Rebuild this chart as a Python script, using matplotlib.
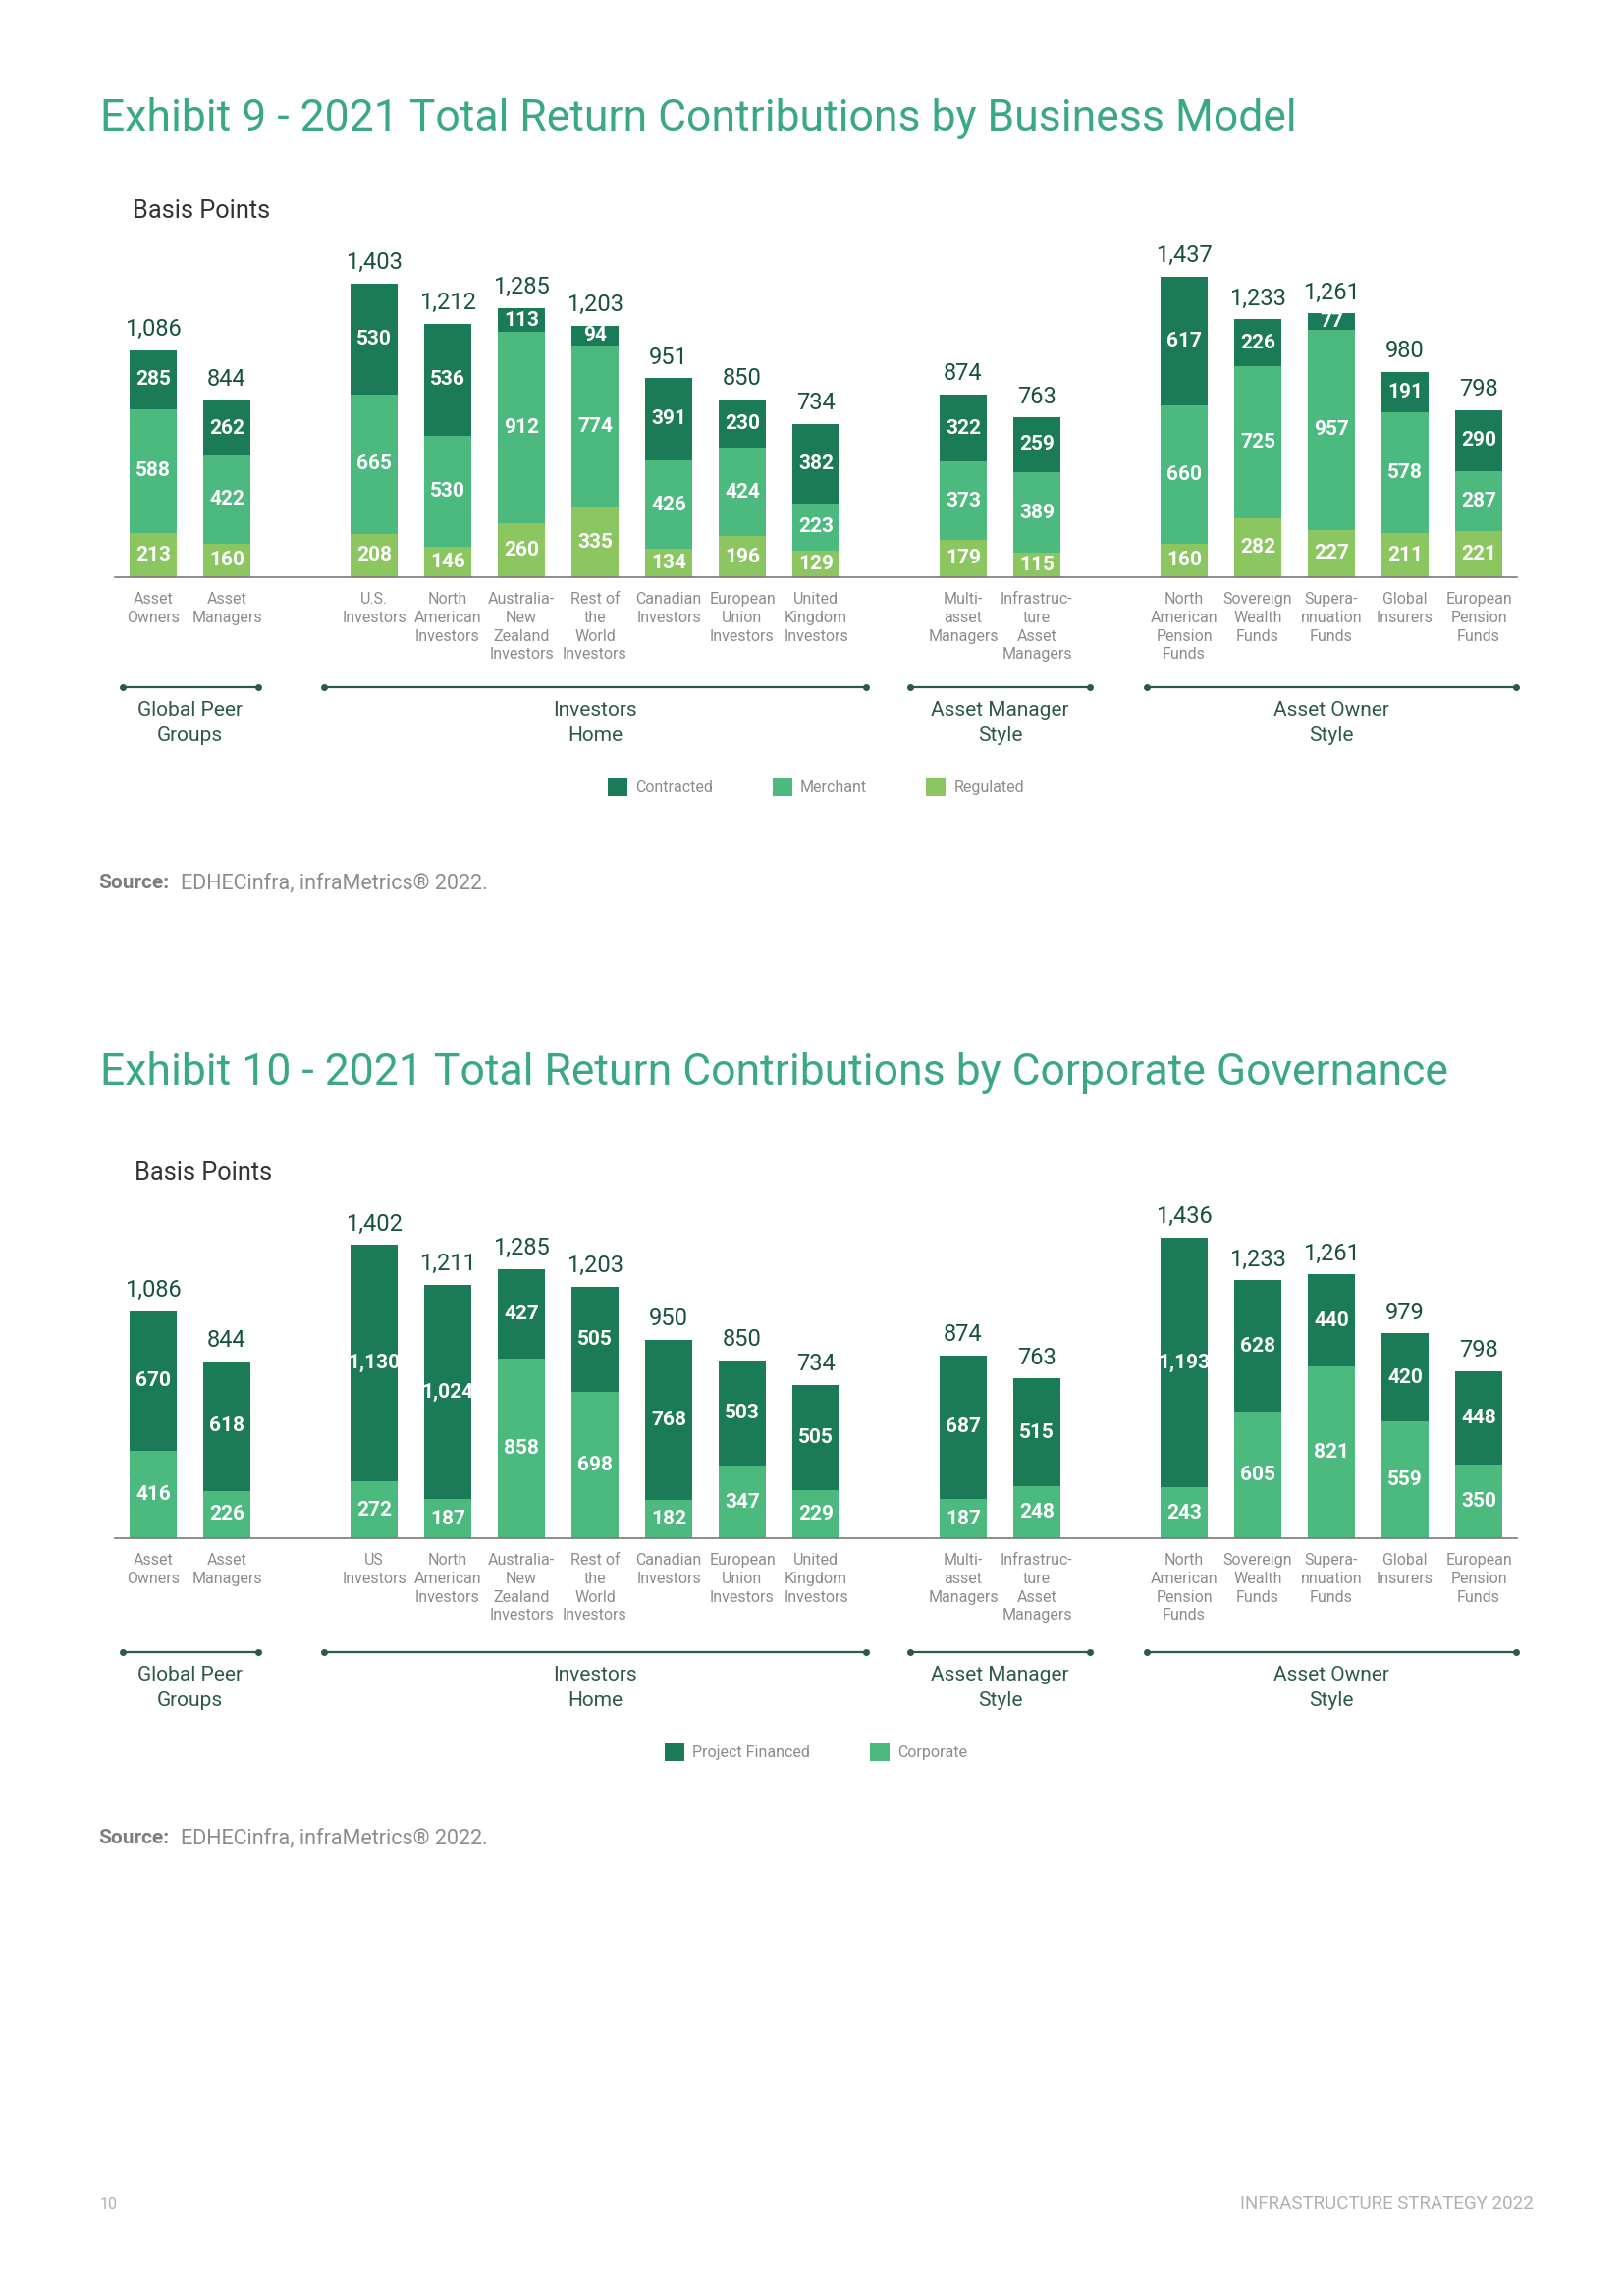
import numpy as np
import matplotlib.pyplot as plt
from matplotlib.patches import Patch
from matplotlib.transforms import blended_transform_factory

plt.rcParams['font.family'] = ['Roboto', 'DejaVu Sans']

W, H = 1654, 2339

# categories (with the line breaks used in the report)
categories_9 = ['Asset\nOwners', 'Asset\nManagers', 'U.S.\nInvestors', 'North\nAmerican\nInvestors',
                'Australia-\nNew\nZealand\nInvestors', 'Rest of\nthe\nWorld\nInvestors',
                'Canadian\nInvestors', 'European\nUnion\nInvestors', 'United\nKingdom\nInvestors',
                'Multi-\nasset\nManagers', 'Infrastruc-\nture\nAsset\nManagers',
                'North\nAmerican\nPension\nFunds', 'Sovereign\nWealth\nFunds', 'Supera-\nnnuation\nFunds',
                'Global\nInsurers', 'European\nPension\nFunds']
categories_10 = ['US\nInvestors' if c == 'U.S.\nInvestors' else c for c in categories_9]

# slot of each bar (gaps between peer groups)
slots = [0, 1, 3, 4, 5, 6, 7, 8, 9, 11, 12, 14, 15, 16, 17, 18]

# Exhibit 9 - business model
contracted = [285, 262, 530, 536, 113, 94, 391, 230, 382, 322, 259, 617, 226, 77, 191, 290]
merchant = [588, 422, 665, 530, 912, 774, 426, 424, 223, 373, 389, 660, 725, 957, 578, 287]
regulated = [213, 160, 208, 146, 260, 335, 134, 196, 129, 179, 115, 160, 282, 227, 211, 221]
totals_9 = [1086, 844, 1403, 1212, 1285, 1203, 951, 850, 734, 874, 763, 1437, 1233, 1261, 980, 798]

# Exhibit 10 - corporate governance
project_financed = [670, 618, 1130, 1024, 427, 505, 768, 503, 505, 687, 515, 1193, 628, 440, 420, 448]
corporate = [416, 226, 272, 187, 858, 698, 182, 347, 229, 187, 248, 243, 605, 821, 559, 350]
totals_10 = [1086, 844, 1402, 1211, 1285, 1203, 950, 850, 734, 874, 763, 1436, 1233, 1261, 979, 798]

groups = ['Global Peer\nGroups', 'Investors\nHome', 'Asset Manager\nStyle', 'Asset Owner\nStyle']
group_first_last = [(0, 1), (2, 8), (9, 10), (11, 15)]
group_pad = [0.42, 0.68, 0.72, 0.51]

c_dark = '#1b7b57'
c_mid = '#4cb97f'
c_light = '#8bc660'
c_title = '#3aa886'
c_total = '#17523b'
c_grey = '#8c8c8c'
c_group = '#2d5a48'


def fx(px):
    return px / W


def fy(py):
    return 1 - py / H


fig = plt.figure(figsize=(W / 100, H / 100), dpi=100)


def draw_exhibit(baseline, series, colors, names, totals, cats, bracket_y, legend_y):
    # series are given bottom -> top
    ax = fig.add_axes([fx(117), fy(baseline), fx(1545) - fx(117), 341 / H])
    bottom = np.zeros(len(slots))
    conts = []
    for vals, col, name in zip(series, colors, names):
        cont = ax.bar(slots, vals, width=0.63, bottom=bottom, color=col, label=name)
        ax.bar_label(cont, labels=[f'{v:,}' for v in vals], label_type='center',
                     color='white', fontweight='bold', fontsize=15)
        bottom = bottom + np.array(vals)
        conts.append(cont)
    ax.bar_label(conts[-1], labels=[f'{t:,}' for t in totals], padding=7,
                 color=c_total, fontsize=17)
    ax.set_xlim(-0.52, 18.52)
    ax.set_ylim(0, 1600)
    ax.set_yticks([])
    for s in ['top', 'right', 'left']:
        ax.spines[s].set_visible(False)
    ax.spines['bottom'].set_color('#7a7a7a')
    ax.spines['bottom'].set_linewidth(1.2)
    ax.set_xticks(slots, cats, fontsize=11.5, color=c_grey, linespacing=1.31)
    ax.tick_params(axis='x', length=0, pad=11)

    tr = blended_transform_factory(ax.transData, fig.transFigure)
    for name, (a, b), pad in zip(groups, group_first_last, group_pad):
        x0 = slots[a] - pad
        x1 = slots[b] + pad
        ax.plot([x0, x1], [fy(bracket_y)] * 2, color=c_group, lw=1.6, marker='o',
                markersize=4, transform=tr, clip_on=False)
        ax.text((x0 + x1) / 2, fy(bracket_y + 14), name, transform=tr, ha='center', va='top',
                fontsize=15, color=c_group, linespacing=1.45)

    # legend reads top segment first
    fig.legend(handles=conts[::-1], ncol=len(conts), loc='center', bbox_to_anchor=(fx(831), fy(legend_y)),
               frameon=False, fontsize=11.5, labelcolor=c_grey, handlelength=1.25, handleheight=1.3,
               handletextpad=0.5, columnspacing=3.8)
    return ax


# Exhibit 9
fig.text(fx(102), fy(120), 'Exhibit 9 - 2021 Total Return Contributions by Business Model',
         fontsize=32, color=c_title, va='center')
fig.text(fx(135), fy(215), 'Basis Points', fontsize=18.3, color='#333333', va='center')
draw_exhibit(588, [regulated, merchant, contracted], [c_light, c_mid, c_dark],
             ['Regulated', 'Merchant', 'Contracted'], totals_9, categories_9, 700, 802)
fig.text(fx(100), fy(900), 'Source:', fontsize=15, color='#7d7d7d', fontweight='bold', va='center')
fig.text(fx(184), fy(900), 'EDHECinfra, infraMetrics® 2022.', fontsize=15.5, color=c_grey, va='center')

# Exhibit 10
fig.text(fx(102), fy(1093), 'Exhibit 10 - 2021 Total Return Contributions by Corporate Governance',
         fontsize=32, color=c_title, va='center')
fig.text(fx(137), fy(1195), 'Basis Points', fontsize=18.3, color='#333333', va='center')
draw_exhibit(1567, [corporate, project_financed], [c_mid, c_dark],
             ['Corporate', 'Project Financed'], totals_10, categories_10, 1683, 1785)
fig.text(fx(100), fy(1873), 'Source:', fontsize=15, color='#7d7d7d', fontweight='bold', va='center')
fig.text(fx(184), fy(1873), 'EDHECinfra, infraMetrics® 2022.', fontsize=15.5, color=c_grey, va='center')

# footer
fig.text(fx(102), fy(2245), '10', fontsize=11.5, color='#b0b0b0', va='center')
fig.text(fx(1562), fy(2245), 'INFRASTRUCTURE STRATEGY 2022', fontsize=13.5, color='#b0b0b0',
         va='center', ha='right')

fig.savefig('out.png', dpi=100)
